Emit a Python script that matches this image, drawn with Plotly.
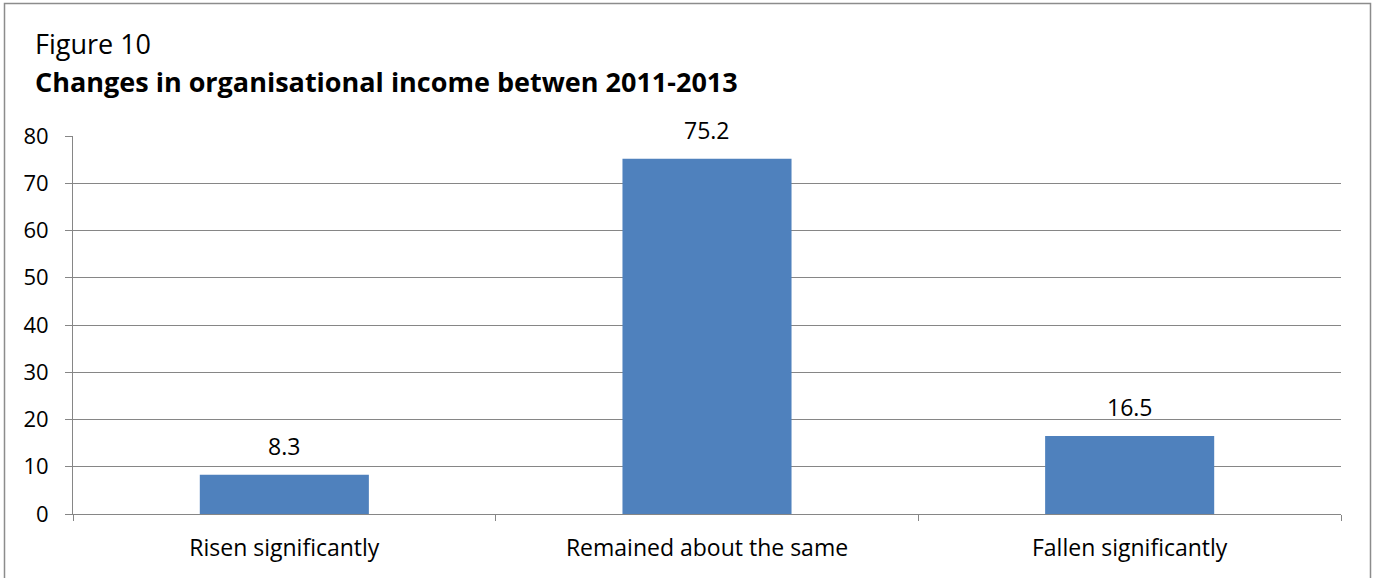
import plotly.graph_objects as go

# Survey responses: change in organisational income, 2011-2013 (%)
categories = ["Risen significantly", "Remained about the same", "Fallen significantly"]
values = [8.3, 75.2, 16.5]
y_ticks = [0, 10, 20, 30, 40, 50, 60, 70, 80]

W, H = 1375, 578
L, R, T, B = 73, 34, 136, 64
pw, ph = W - L - R, H - T - B

def px_x(p):
    return (p - L) / pw

def px_y(p):
    return (H - B - p) / ph

FONT = "'Open Sans', Lato, sans-serif"
GRID = "#868686"
BAR = "#4F81BD"

fig = go.Figure(
    go.Bar(
        x=categories,
        y=values,
        marker=dict(color=BAR, line=dict(width=0)),
        width=0.4,
        hoverinfo="skip",
    )
)

# value labels above each bar
for c, v in zip(categories, values):
    fig.add_annotation(
        x=c, y=v, xref="x", yref="y",
        text=f"{v:.1f}", showarrow=False,
        yanchor="bottom", yshift=11,
        font=dict(family=FONT, size=23, color="#000"),
    )

# heading lines
fig.add_annotation(
    x=px_x(33), y=px_y(64), xref="paper", yref="paper",
    xanchor="left", yanchor="bottom", showarrow=False,
    text="Figure 10", font=dict(family=FONT, size=27, color="#000"),
)
fig.add_annotation(
    x=px_x(33), y=px_y(102), xref="paper", yref="paper",
    xanchor="left", yanchor="bottom", showarrow=False,
    text="<b>Changes in organisational income betwen 2011-2013</b>",
    font=dict(family=FONT, size=27, color="#000"),
)

# frame around the chart
fig.add_shape(
    type="rect", xref="paper", yref="paper",
    x0=px_x(4.5), x1=px_x(1370.5), y0=px_y(700), y1=px_y(3.5),
    line=dict(color="#8c8c8c", width=1.5), fillcolor="rgba(0,0,0,0)",
    layer="below",
)

fig.update_layout(
    width=W, height=H,
    margin=dict(l=L, r=R, t=T, b=B, pad=0),
    paper_bgcolor="white", plot_bgcolor="white",
    showlegend=False,
    bargap=0.6,
)
fig.update_xaxes(
    type="category",
    showline=True, linecolor=GRID, linewidth=1,
    ticks="outside", tickson="boundaries", ticklen=6, tickcolor=GRID,
    showgrid=False,
    ticklabelstandoff=13,
    tickfont=dict(family=FONT, size=23, color="#000"),
)
fig.update_yaxes(
    range=[0, 80], tickvals=y_ticks,
    showline=True, linecolor=GRID, linewidth=1,
    ticks="outside", ticklen=7, tickcolor=GRID,
    showgrid=True, gridcolor=GRID, gridwidth=1,
    zeroline=False,
    ticklabelstandoff=12,
    tickfont=dict(family=FONT, size=22, color="#000"),
)

fig.write_html("out.html")
